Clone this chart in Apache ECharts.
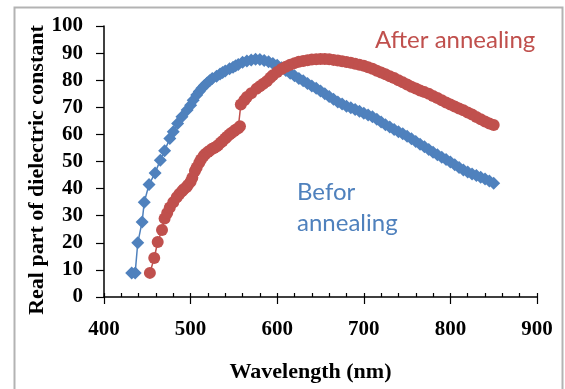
<!DOCTYPE html>
<html>
<head>
<meta charset="utf-8">
<script src="https://cdn.jsdelivr.net/npm/echarts@6/dist/echarts.min.js"></script>
<style>
html,body{margin:0;padding:0;background:#fff;}
#chart{width:565px;height:389px;}
</style>
</head>
<body>
<div id="chart"></div>
<script>
// ---- data ----
const seriesNames = ['Befor annealing', 'After annealing'];
const xTickLabels = [400, 500, 600, 700, 800, 900];
const yTickLabels = [0, 10, 20, 30, 40, 50, 60, 70, 80, 90, 100];

const beforeWavelength = [432, 436, 439, 444, 446.5, 452, 459, 465, 470, 476, 480, 485, 490, 496, 500, 503, 507, 510, 513, 516, 519, 522, 525, 530, 534, 537, 540, 545, 549, 552, 555, 560, 565, 570, 575, 580, 585, 590, 595, 600, 605, 610, 615, 620, 625, 630, 635, 640, 645, 650, 655, 660, 665, 670, 675, 680, 685, 690, 695, 700, 705, 710, 715, 720, 725, 730, 735, 740, 745, 750, 755, 760, 765, 770, 775, 780, 785, 790, 795, 800, 805, 810, 815, 820, 825, 830, 835, 840, 845, 850];
const beforeValue = [8.9, 8.9, 20, 27.7, 35, 41.5, 45.8, 50.5, 54, 58.5, 61, 64, 66.5, 69, 70.8, 72.6, 74.5, 75.8, 77, 78, 79, 79.8, 80.6, 81.5, 82.3, 82.8, 83.4, 84.2, 84.8, 85.3, 85.8, 86.6, 87.1, 87.5, 87.7, 87.6, 87.3, 86.8, 86.2, 85.5, 84.6, 83.6, 82.6, 81.6, 80.6, 79.8, 78.8, 77.9, 77, 76, 75, 74, 73, 72, 71.2, 70.4, 69.8, 69.2, 68.5, 67.8, 67.2, 66.5, 65.6, 64.6, 63.6, 62.7, 61.8, 61, 60.2, 59.3, 58.4, 57.4, 56.4, 55.4, 54.4, 53.4, 52.5, 51.6, 50.7, 49.8, 48.8, 47.8, 46.9, 46.1, 45.4, 44.8, 44.2, 43.5, 42.8, 42];

const afterWavelength = [453, 458, 462, 467, 470, 473, 476, 480, 484, 487, 490, 492, 495, 497, 500, 502, 505, 507, 510, 512, 515, 517, 520, 522, 525, 527, 530, 532, 535, 537, 540, 542, 545, 547, 550, 552, 555, 557, 558, 562, 565, 570, 576, 580, 584, 588, 592, 595, 600, 605, 610, 615, 620, 625, 630, 635, 640, 645, 650, 655, 660, 665, 670, 675, 680, 685, 690, 695, 700, 705, 710, 715, 720, 725, 730, 735, 740, 745, 750, 755, 760, 765, 770, 775, 780, 785, 790, 795, 800, 805, 810, 815, 820, 825, 830, 835, 840, 845, 850];
const afterValue = [8.9, 14.4, 20.3, 24.7, 29, 31, 33, 35, 36.8, 38, 39, 39.8, 40.5, 41.3, 42.5, 44, 46.5, 47.8, 49.5, 50.7, 52, 52.8, 53.5, 54, 54.7, 55, 55.5, 56.1, 57, 57.6, 58.5, 59.1, 60, 60.5, 61.2, 61.7, 62.3, 63, 71, 72.6, 73.8, 75.2, 76.8, 77.8, 78.7, 79.6, 80.9, 81.8, 83, 84.1, 85, 85.7, 86.3, 86.8, 87.1, 87.4, 87.6, 87.7, 87.8, 87.8, 87.7, 87.5, 87.3, 87, 86.7, 86.4, 86.1, 85.7, 85.3, 84.8, 84.2, 83.5, 82.8, 82.2, 81.5, 80.8, 80, 79.2, 78.4, 77.6, 76.9, 76.2, 75.6, 75, 74.2, 73.4, 72.6, 71.8, 71, 70.3, 69.6, 68.9, 68.1, 67.3, 66.4, 65.6, 64.8, 64, 63.5];

// ---- build ----
const pairs = (xs, ys) => xs.map((x, i) => [x, ys[i]]);
const BLUE = '#4f81bd', RED = '#c0504d';
const serif = '"Liberation Serif", "DejaVu Serif", serif';
const xMin = xTickLabels[0], xMax = xTickLabels[xTickLabels.length - 1];
const xStep = xTickLabels[1] - xTickLabels[0];
const yMin = yTickLabels[0], yMax = yTickLabels[yTickLabels.length - 1];
const yStep = yTickLabels[1] - yTickLabels[0];

const chart = echarts.init(document.getElementById('chart'), null, {renderer: 'canvas'});
chart.setOption({
  animation: false,
  backgroundColor: '#fff',
  grid: {left: 104, right: 28, top: 26, bottom: 92, containLabel: false},
  xAxis: [{
    type: 'value', min: xMin, max: xMax, interval: xStep,
    name: 'Wavelength (nm)', nameLocation: 'middle', nameGap: 64,
    nameTextStyle: {fontFamily: serif, fontWeight: 'bold', fontSize: 22, color: '#000', padding: [0, 20, 0, 0]},
    axisLine: {lineStyle: {color: '#000', width: 1.5}},
    axisTick: {show: true, inside: true, length: 4, lineStyle: {color: '#000', width: 1.2}},
    minorTick: {show: true, splitNumber: 5, length: 4, lineStyle: {color: '#000', width: 1.2}},
    axisLabel: {fontFamily: serif, fontWeight: 'bold', fontSize: 21, color: '#000', margin: 22},
    splitLine: {show: false}
  }, {
    type: 'value', min: xMin, max: xMax, interval: xStep, position: 'bottom',
    axisLine: {show: false},
    axisTick: {show: true, inside: false, length: 7, lineStyle: {color: '#000', width: 1.2}},
    axisLabel: {show: false}, splitLine: {show: false}
  }],
  yAxis: {
    type: 'value', min: yMin, max: yMax, interval: yStep,
    axisLine: {show: true, lineStyle: {color: '#000', width: 1.5}},
    axisTick: {show: true, inside: false, length: 8, lineStyle: {color: '#000', width: 1.2}},
    axisLabel: {fontFamily: serif, fontWeight: 'bold', fontSize: 21, color: '#000', margin: 21},
    splitLine: {show: false}
  },
  series: [{
    name: seriesNames[0], type: 'line', data: pairs(beforeWavelength, beforeValue),
    symbol: 'diamond', symbolSize: 13, showAllSymbol: true,
    itemStyle: {color: BLUE}, lineStyle: {color: BLUE, width: 1.5}, z: 3
  }, {
    name: seriesNames[1], type: 'line', data: pairs(afterWavelength, afterValue),
    symbol: 'circle', symbolSize: 12, showAllSymbol: true,
    itemStyle: {color: RED}, lineStyle: {color: RED, width: 1.5}, z: 4
  }],
  graphic: [
    {type: 'rect', left: 12, top: 5, shape: {width: 548, height: 400}, silent: true, z: -10,
     style: {fill: 'none', stroke: '#b3b3b3', lineWidth: 2}},
    {type: 'text', x: 37, y: 170, rotation: Math.PI / 2, z: 10,
     style: {text: 'Real part of dielectric constant', fill: '#000', align: 'center', verticalAlign: 'middle',
             font: 'bold 22px "Liberation Serif", serif'}},
    {type: 'text', left: 375, top: 28, z: 10,
     style: {text: 'After annealing', fill: RED, font: '24px Lato, "Open Sans", sans-serif'}},
    {type: 'text', left: 297, top: 177, z: 10,
     style: {text: 'Befor\nannealing', fill: BLUE, font: '24px Lato, "Open Sans", sans-serif', lineHeight: 31}}
  ]
});
</script>
</body>
</html>
